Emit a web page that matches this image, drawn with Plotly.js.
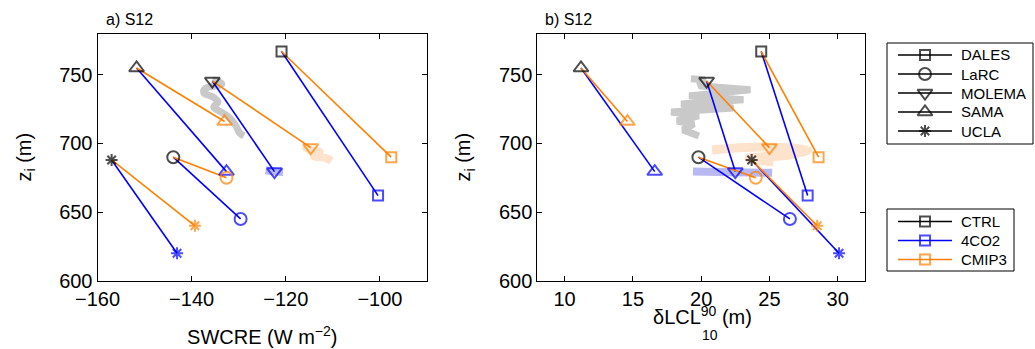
<!DOCTYPE html>
<html><head><meta charset="utf-8">
<script src="https://cdn.plot.ly/plotly-3.0.1.min.js"></script>
<style>html,body{margin:0;padding:0;background:#fff}</style>
</head><body><div id="chart" style="width:1035px;height:349px"></div>
<script>
// ---- data ----
const models = ['DALES', 'LaRC', 'MOLEMA', 'SAMA', 'UCLA'];
const runs = ['CTRL', '4CO2', 'CMIP3'];
const zi_ctrl  = [767, 690, 745.5, 755, 688];
const zi_4co2  = [662, 645, 679.5, 679.5, 620];
const zi_cmip3 = [690, 675, 697, 716, 640];
const swcre_ctrl  = [-120.9, -143.9, -135.6, -151.7, -157.0];
const swcre_4co2  = [-100.4, -129.6, -122.4, -132.6, -143.1];
const swcre_cmip3 = [-97.6, -132.6, -114.7, -133.0, -139.3];
const dlcl_ctrl  = [24.4, 19.8, 20.4, 11.2, 23.7];
const dlcl_4co2  = [27.8, 26.5, 22.5, 16.6, 30.1];
const dlcl_cmip3 = [28.6, 24.0, 25.0, 14.6, 28.5];
// MOLEMA time-varying ranges (shaded traces)
const molA_ctrl_x  = [-135.6, -133.6, -137.2, -137.4, -135.5, -134.4, -135.3, -133.8, -131.9, -130.6, -129.8, -128.9];
const molA_ctrl_y  = [746.4, 743.4, 739.8, 736.9, 734.0, 730.3, 726.6, 723.0, 718.6, 712.8, 707.7, 705.5];
const molA_4co2_x  = [-124.3, -122.4, -120.6];
const molA_4co2_y  = [680.5, 679.6, 679.2];
const molA_cmip3_x = [-116.2, -114.9, -112.8, -114.1, -111.5, -110.3];
const molA_cmip3_y = [698.2, 695.3, 693.8, 690.9, 689.4, 687.2];
const molB_ctrl_x  = [19.25, 20.27, 19.83, 23.61, 19.11, 23.1, 18.52, 22.38, 17.8, 19.83, 18.23, 19.47, 18.67, 19.83];
const molB_ctrl_y  = [747.1, 746.4, 742.0, 739.1, 734.7, 731.8, 728.8, 725.9, 723.0, 720.1, 716.4, 714.2, 709.9, 705.5];
const molB_4co2_x  = [19.4, 22.3, 25.2];
const molB_4co2_y  = [679.6, 679.0, 678.6];
const molB_cmip3_x = [20.8, 24.2, 27.8, 26.4, 23.5, 25.3];
const molB_cmip3_y = [695.3, 697.4, 695.3, 691.6, 689.4, 686.5];
const xticksA = [-160, -140, -120, -100];
const xticksB = [10, 15, 20, 25, 30];
const yticks = [600, 650, 700, 750];

// ---- styles ----
const FONT = 'Liberation Sans, Arial, Helvetica, sans-serif';
const C = {CTRL: '#000000', '4CO2': '#0000ff', CMIP3: '#ff8000'};
const SYM = ['square-open', 'circle-open', 'triangle-down-open', 'triangle-up-open', 'asterisk-open'];
const SIZE = [10, 12, 13, 13, 10];

function segs(x0, x1, y0, y1) {
  const x = [], y = [];
  for (let i = 0; i < x0.length; i++) { x.push(x0[i], x1[i], null); y.push(y0[i], y1[i], null); }
  return {x, y};
}
function blob(x, y, col, w, xa, ya, shape) {
  return {x, y, xaxis: xa, yaxis: ya, mode: 'lines', line: {color: col, width: w, shape: shape || 'spline'},
          showlegend: false, hoverinfo: 'skip'};
}
function lineTrace(s, col, xa, ya) {
  return {x: s.x, y: s.y, xaxis: xa, yaxis: ya, mode: 'lines', line: {color: col, width: 1.6},
          showlegend: false, hoverinfo: 'skip'};
}
function markTrace(x, y, col, xa, ya, sym, size) {
  return {x, y, xaxis: xa, yaxis: ya, mode: 'markers',
          marker: {symbol: sym || SYM, size: size || SIZE, color: col, line: {color: col, width: 2}}, showlegend: false};
}

const traces = [];
// panel a
traces.push(blob(molA_ctrl_x, molA_ctrl_y, '#c9c9c9', 7, 'x', 'y'));
traces.push(blob(molA_4co2_x, molA_4co2_y, '#b8b8f2', 8, 'x', 'y'));
traces.push(blob(molA_cmip3_x, molA_cmip3_y, '#fde2cc', 8, 'x', 'y'));
traces.push(lineTrace(segs(swcre_ctrl, swcre_4co2, zi_ctrl, zi_4co2), C['4CO2'], 'x', 'y'));
traces.push(lineTrace(segs(swcre_ctrl, swcre_cmip3, zi_ctrl, zi_cmip3), C.CMIP3, 'x', 'y'));
traces.push(markTrace(swcre_ctrl, zi_ctrl, C.CTRL, 'x', 'y'));
traces.push(markTrace(swcre_4co2, zi_4co2, C['4CO2'], 'x', 'y'));
traces.push(markTrace(swcre_cmip3, zi_cmip3, C.CMIP3, 'x', 'y'));
// panel b
traces.push(blob(molB_ctrl_x, molB_ctrl_y, '#c9c9c9', 7, 'x2', 'y2', 'linear'));
traces.push(blob(molB_4co2_x, molB_4co2_y, '#b8b8f2', 8, 'x2', 'y2'));
traces.push(blob(molB_cmip3_x, molB_cmip3_y, '#fde2cc', 9, 'x2', 'y2'));
traces.push(lineTrace(segs(dlcl_ctrl, dlcl_4co2, zi_ctrl, zi_4co2), C['4CO2'], 'x2', 'y2'));
traces.push(lineTrace(segs(dlcl_ctrl, dlcl_cmip3, zi_ctrl, zi_cmip3), C.CMIP3, 'x2', 'y2'));
traces.push(markTrace(dlcl_ctrl, zi_ctrl, C.CTRL, 'x2', 'y2'));
traces.push(markTrace(dlcl_4co2, zi_4co2, C['4CO2'], 'x2', 'y2'));
traces.push(markTrace(dlcl_cmip3, zi_cmip3, C.CMIP3, 'x2', 'y2'));

// ---- legends (drawn on a pixel-scaled overlay axis) ----
const LX0 = 898, LX1 = 952, LTX = 959, LROW = 19;
const L1_TOP = 55, L2_TOP = 221.5;
const annotations = [];
function legendBlock(names, top, colors, syms, sizes) {
  const ys = names.map((_, i) => top + i * LROW);
  names.forEach((n, i) => {
    traces.push({x: [LX0, LX1], y: [ys[i], ys[i]], xaxis: 'x3', yaxis: 'y3', mode: 'lines',
      line: {color: colors[i], width: 1.6}, showlegend: false, hoverinfo: 'skip'});
    annotations.push({text: n, x: LTX, y: ys[i], xref: 'x3', yref: 'y3', xanchor: 'left', yanchor: 'middle',
      showarrow: false, font: {family: FONT, size: 15, color: '#000'}});
  });
  traces.push({x: ys.map(() => (LX0 + LX1) / 2), y: ys, xaxis: 'x3', yaxis: 'y3', mode: 'markers',
    marker: {symbol: syms, size: sizes, color: colors, line: {color: colors, width: 2}}, showlegend: false, hoverinfo: 'skip'});
}
legendBlock(models, L1_TOP, models.map(() => '#000'), SYM, SIZE);
legendBlock(runs, L2_TOP, runs.map(r => C[r]), runs.map(() => 'square-open'), runs.map(() => 10));

const axBase = {showline: true, linecolor: '#000', linewidth: 1, mirror: 'ticks', ticks: 'inside', ticklen: 5,
  tickcolor: '#000', showgrid: false, zeroline: false, tickfont: {family: FONT, size: 20, color: '#000'}};
const yTop = (349 - 33.7) / 349, yBot = (349 - 280.7) / 349;
const hidden = {visible: false, showgrid: false, zeroline: false, fixedrange: true};
const layout = {
  width: 1035, height: 349, margin: {l: 0, r: 0, t: 0, b: 0}, paper_bgcolor: '#fff', plot_bgcolor: 'rgba(0,0,0,0)',
  font: {family: FONT, color: '#000'}, showlegend: false,
  xaxis: Object.assign({}, axBase, {domain: [97.5 / 1035, 427 / 1035], range: [-160, -90], tickvals: xticksA,
    anchor: 'y', title: {text: 'SWCRE (W m<sup>−2</sup>)', font: {family: FONT, size: 20}, standoff: 21}}),
  yaxis: Object.assign({}, axBase, {domain: [yBot, yTop], range: [600, 780], tickvals: yticks, anchor: 'x',
    title: {text: 'z<sub>i</sub> (m)', font: {family: FONT, size: 20}, standoff: 22}}),
  xaxis2: Object.assign({}, axBase, {domain: [537.3 / 1035, 865 / 1035], range: [8, 32], tickvals: xticksB, anchor: 'y2'}),
  yaxis2: Object.assign({}, axBase, {domain: [yBot, yTop], range: [600, 780], tickvals: yticks, anchor: 'x2',
    title: {text: 'z<sub>i</sub> (m)', font: {family: FONT, size: 20}, standoff: 22}}),
  xaxis3: Object.assign({}, hidden, {domain: [0.85, 1], range: [0.85 * 1035, 1035], anchor: 'y3'}),
  yaxis3: Object.assign({}, hidden, {domain: [0.1, 0.9], range: [349 * 0.9, 349 * 0.1], anchor: 'x3'}),
  shapes: [
    {type: 'rect', xref: 'paper', yref: 'paper', x0: 887 / 1035, x1: 1033 / 1035, y0: (349 - 144) / 349, y1: (349 - 43) / 349,
      line: {color: '#000', width: 1}},
    {type: 'rect', xref: 'paper', yref: 'paper', x0: 887 / 1035, x1: 1014 / 1035, y0: (349 - 271) / 349, y1: (349 - 209) / 349,
      line: {color: '#000', width: 1}}
  ],
  annotations: annotations.concat([
    {text: 'a) S12', x: 104 / 1035, y: (349 - 19) / 349, xref: 'paper', yref: 'paper', xanchor: 'left', yanchor: 'middle',
      showarrow: false, font: {family: FONT, size: 16, color: '#000'}},
    {text: 'b) S12', x: 543 / 1035, y: (349 - 19) / 349, xref: 'paper', yref: 'paper', xanchor: 'left', yanchor: 'middle',
      showarrow: false, font: {family: FONT, size: 16, color: '#000'}},
    {text: 'δLCL<sup>90</sup>\u00a0(m)', x: 702 / 1035, y: (349 - 315) / 349, xref: 'paper', yref: 'paper',
      xanchor: 'center', yanchor: 'middle', showarrow: false, font: {family: FONT, size: 20, color: '#000'}},
    {text: '10', x: 710 / 1035, y: (349 - 335) / 349, xref: 'paper', yref: 'paper', xanchor: 'center', yanchor: 'middle',
      showarrow: false, font: {family: FONT, size: 14, color: '#000'}}
  ])
};
Plotly.newPlot('chart', traces, layout, {displayModeBar: false, staticPlot: true});
</script>
</body></html>
